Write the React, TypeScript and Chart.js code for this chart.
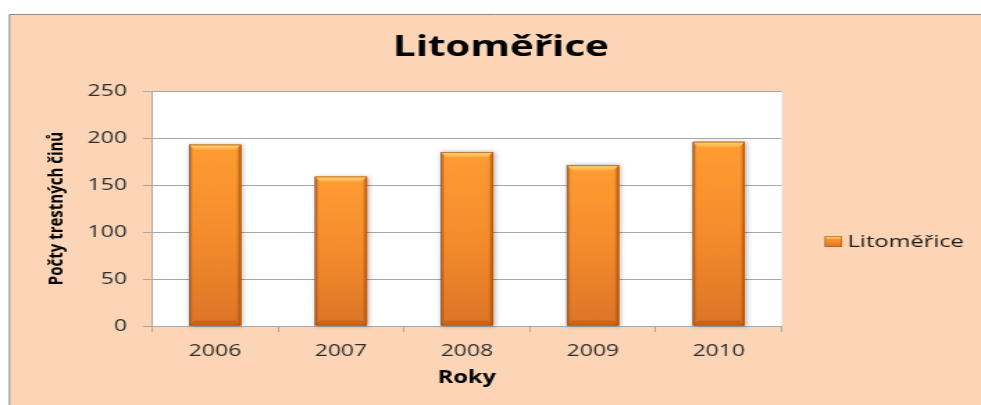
import React, { useEffect, useRef } from "react";
import { Chart, registerables } from "chart.js";

Chart.register(...registerables);

// ---- data ----
const categories = ["2006", "2007", "2008", "2009", "2010"];
const counts = [193, 159, 185, 171, 196];
const yMin = 0;
const yMax = 250;
const yStep = 50;
const seriesName = "Litoměřice";
const chartTitle = "Litoměřice";
const xTitle = "Roky";
const yTitle = "Počty trestných činů";

// ---- layout (base canvas is stretched horizontally to the window width) ----
const W = 706;
const H = 405;
const S = 981 / W;
const FONT = "'Open Sans', 'Noto Sans', sans-serif";

const PEACH = "#FBD5B5";
const GRID = "#A8A8A8";

function orangeBodyGradient(ctx: CanvasRenderingContext2D, t: number, b: number) {
  const g = ctx.createLinearGradient(0, t, 0, b);
  g.addColorStop(0, "#FF9C32");
  g.addColorStop(0.5, "#F48C2C");
  g.addColorStop(1, "#DC7526");
  return g;
}

const backgroundPlugin = {
  id: "bgPlugin",
  beforeDraw(chart: any) {
    const ctx = chart.ctx as CanvasRenderingContext2D;
    const ca = chart.chartArea;
    ctx.save();
    ctx.fillStyle = "#FFFFFF";
    ctx.fillRect(0, 0, W, H);
    ctx.fillStyle = PEACH;
    ctx.fillRect(6.5, 14, W - 6.5, H - 14);
    ctx.strokeStyle = "#8C8C8C";
    ctx.lineWidth = 1;
    ctx.beginPath();
    ctx.moveTo(6.8, H);
    ctx.lineTo(6.8, 14.5);
    ctx.lineTo(W, 14.5);
    ctx.stroke();
    ctx.fillStyle = "#FFFFFF";
    ctx.fillRect(ca.left, ca.top, ca.right - ca.left, ca.bottom - ca.top);
    ctx.restore();
  },
};

const bevelPlugin = {
  id: "bevelPlugin",
  afterDatasetsDraw(chart: any) {
    const ctx = chart.ctx as CanvasRenderingContext2D;
    const meta = chart.getDatasetMeta(0);
    meta.data.forEach((el: any) => {
      const { x, y, base, width } = el.getProps(["x", "y", "base", "width"], true);
      const l = x - width / 2;
      const r = x + width / 2;
      const t = Math.min(y, base);
      const b = Math.max(y, base);
      const bh = 5;
      const bw = 3.6;
      ctx.save();
      // soft shadow + body
      ctx.shadowColor = "rgba(0,0,0,0.35)";
      ctx.shadowBlur = 4;
      ctx.shadowOffsetX = 1;
      ctx.shadowOffsetY = 0;
      ctx.fillStyle = orangeBodyGradient(ctx, t, b);
      ctx.fillRect(l, t, r - l, b - t);
      ctx.shadowColor = "transparent";
      ctx.shadowBlur = 0;
      ctx.shadowOffsetX = 0;
      // left edge
      let g = ctx.createLinearGradient(l, 0, l + 3, 0);
      g.addColorStop(0, "rgba(150,70,10,0.65)");
      g.addColorStop(1, "rgba(150,70,10,0)");
      ctx.fillStyle = g;
      ctx.fillRect(l, t, 3, b - t);
      // right edge
      g = ctx.createLinearGradient(r - 3.5, 0, r, 0);
      g.addColorStop(0, "rgba(150,70,10,0)");
      g.addColorStop(1, "rgba(150,70,10,0.7)");
      ctx.fillStyle = g;
      ctx.fillRect(r - 3.5, t, 3.5, b - t);
      // top bevel
      g = ctx.createLinearGradient(0, t, 0, t + bh);
      g.addColorStop(0, "#FFD27A");
      g.addColorStop(1, "#FFB043");
      ctx.fillStyle = g;
      ctx.beginPath();
      ctx.moveTo(l, t);
      ctx.lineTo(r, t);
      ctx.lineTo(r - bw, t + bh);
      ctx.lineTo(l + bw, t + bh);
      ctx.closePath();
      ctx.fill();
      // bottom bevel
      ctx.fillStyle = "rgba(170,85,20,0.45)";
      ctx.beginPath();
      ctx.moveTo(l, b);
      ctx.lineTo(r, b);
      ctx.lineTo(r - bw, b - bh);
      ctx.lineTo(l + bw, b - bh);
      ctx.closePath();
      ctx.fill();
      // outline
      ctx.strokeStyle = "rgba(165,85,25,0.85)";
      ctx.lineWidth = 0.8;
      ctx.strokeRect(l + 0.4, t + 0.4, r - l - 0.8, b - t - 0.8);
      ctx.restore();
    });
  },
};

const legendPlugin = {
  id: "customLegend",
  afterDraw(chart: any) {
    const ctx = chart.ctx as CanvasRenderingContext2D;
    const bx = 593.5;
    const by = 236;
    const bwid = 12.3;
    const bhei = 11;
    ctx.save();
    ctx.fillStyle = orangeBodyGradient(ctx, by, by + bhei);
    ctx.fillRect(bx, by, bwid, bhei);
    const g = ctx.createLinearGradient(0, by, 0, by + 3);
    g.addColorStop(0, "#FFD27A");
    g.addColorStop(1, "#FFB043");
    ctx.fillStyle = g;
    ctx.fillRect(bx, by, bwid, 3);
    ctx.strokeStyle = "rgba(165,85,25,0.85)";
    ctx.lineWidth = 0.7;
    ctx.strokeRect(bx + 0.35, by + 0.35, bwid - 0.7, bhei - 0.7);
    ctx.fillStyle = "#1A1A1A";
    ctx.font = `17px ${FONT}`;
    ctx.textBaseline = "alphabetic";
    ctx.textAlign = "left";
    ctx.fillText(seriesName, 610, 247.3);
    ctx.restore();
  },
};

export default function App() {
  const canvasRef = useRef<HTMLCanvasElement | null>(null);

  useEffect(() => {
    const canvas = canvasRef.current;
    if (!canvas) return;
    const chart = new Chart(canvas, {
      type: "bar",
      data: {
        labels: categories,
        datasets: [
          {
            label: seriesName,
            data: counts,
            backgroundColor: "#F48C2C",
            borderWidth: 0,
            barPercentage: 0.413,
            categoryPercentage: 1,
          },
        ],
      },
      options: {
        animation: false,
        responsive: false,
        devicePixelRatio: 1,
        layout: { padding: { left: 15, right: 0, top: 14, bottom: 0 } },
        plugins: {
          legend: { display: false },
          tooltip: { enabled: false },
          title: {
            display: true,
            text: chartTitle,
            color: "#000000",
            font: { family: FONT, size: 29, weight: "bold" },
            padding: { top: 16, bottom: 26.2 },
          },
        },
        scales: {
          x: {
            grid: {
              offset: true,
              drawOnChartArea: false,
              drawTicks: true,
              tickLength: 6,
              color: GRID,
            },
            border: { color: GRID },
            ticks: {
              color: "#2E2E2E",
              font: { family: FONT, size: 16.5 },
              padding: 9.4,
            },
            title: {
              display: true,
              text: xTitle,
              color: "#000000",
              font: { family: FONT, size: 17, weight: "bold" },
              padding: { top: 0, bottom: 16.5 },
            },
            afterFit: (s: any) => {
              s.height = 79;
            },
          },
          y: {
            min: yMin,
            max: yMax,
            ticks: {
              stepSize: yStep,
              color: "#2E2E2E",
              font: { family: FONT, size: 16.5 },
              padding: 11.5,
            },
            grid: { color: GRID, tickLength: 6.5 },
            border: { color: GRID },
            title: {
              display: true,
              text: yTitle,
              color: "#000000",
              font: { family: FONT, size: 15, weight: "bold" },
              padding: { top: 17.2, bottom: 0 },
            },
            afterFit: (s: any) => {
              s.width = 109.4 - 15;
            },
          },
          y2: {
            type: "linear",
            position: "right",
            display: true,
            grid: { display: false },
            ticks: { display: false },
            border: { display: false },
            afterFit: (s: any) => {
              s.width = W - 562.6;
            },
          },
        },
      },
      plugins: [backgroundPlugin, bevelPlugin, legendPlugin],
    } as any);
    return () => chart.destroy();
  }, []);

  return (
    <div
      style={{
        position: "absolute",
        left: 0,
        top: 0,
        width: W,
        height: H,
        transform: `scaleX(${S})`,
        transformOrigin: "0 0",
      }}
    >
      <canvas ref={canvasRef} width={W} height={H} style={{ display: "block" }} />
    </div>
  );
}
